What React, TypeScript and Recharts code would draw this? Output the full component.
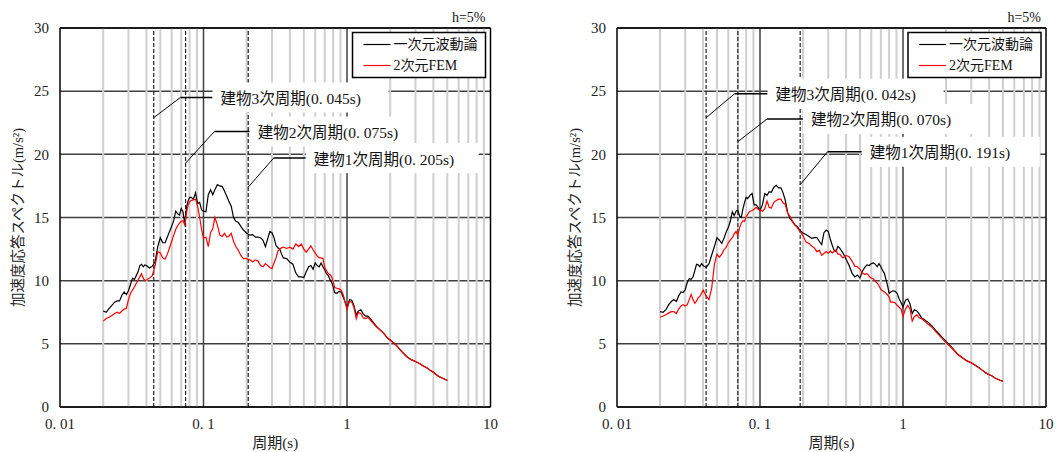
import React from 'react'
import { LineChart, Line, XAxis, YAxis, CartesianGrid, ReferenceLine, ReferenceDot } from 'recharts'

const FONT = "'Liberation Serif', 'Noto Sans CJK JP', serif"

// 周期 (s) — shared by all four curves
const periods = [
  0.020, 0.021, 0.022, 0.023, 0.024, 0.025, 0.026, 0.027, 0.028, 0.029, 0.030,
  0.031, 0.032, 0.033, 0.034, 0.035, 0.036, 0.037, 0.038, 0.039, 0.040,
  0.042, 0.044, 0.046, 0.048, 0.050, 0.052, 0.054, 0.056, 0.058, 0.060, 0.062,
  0.064, 0.066, 0.068, 0.070, 0.072, 0.074, 0.076, 0.078, 0.080, 0.082,
  0.085, 0.088, 0.091, 0.094, 0.097,
  0.100, 0.104, 0.108, 0.112, 0.116, 0.120,
  0.125, 0.130, 0.135, 0.140, 0.145, 0.150,
  0.156, 0.162, 0.168, 0.175, 0.182, 0.190, 0.200,
  0.21, 0.22, 0.23, 0.24, 0.25, 0.26, 0.27, 0.28, 0.29, 0.30, 0.31, 0.32, 0.33, 0.34, 0.35, 0.36,
  0.38, 0.40, 0.42, 0.44, 0.46, 0.48, 0.50, 0.52, 0.54, 0.56, 0.58, 0.60, 0.62, 0.64, 0.66,
  0.68, 0.70, 0.72, 0.74, 0.76, 0.78, 0.80, 0.82,
  0.85, 0.88, 0.91, 0.94, 0.97,
  1.00, 1.04, 1.08, 1.12, 1.16, 1.20,
  1.25, 1.30, 1.35, 1.40, 1.45, 1.50,
  1.6, 1.7, 1.8, 1.9, 2.0,
  2.2, 2.4, 2.6, 2.8, 3.0, 3.2, 3.4, 3.6, 3.8, 4.0, 4.2, 4.4, 4.6, 4.8, 5.0,
]

// left panel
const leftWave = [
  7.6, 7.5, 7.8, 8.05, 8.3, 8.4, 8.4, 8.85, 9.1, 8.9, 9.2, 9.7, 10.2, 10.1, 10.4, 10.7, 11.2, 11.3, 11.1, 11.25, 11.2,
  11.0, 11.15, 11.5, 12.7, 13.4, 13.0, 13.0, 13.45, 13.9, 14.3, 14.75, 15.5, 15.3, 15.2, 15.7, 15.45, 14.5, 15.8, 16.3, 16.6, 16.6,
  16.45, 16.95, 16.1, 16.2, 15.6,
  15.5, 15.45, 16.8, 17.2, 16.8, 17.2,
  17.6, 17.5, 17.45, 17.1, 16.7, 16.3,
  15.9, 15.0, 14.7, 14.6, 14.3, 14.0, 13.75,
  13.6, 13.65, 13.45, 13.45, 13.4, 13.2, 12.7, 13.3, 13.9, 13.8, 13.4, 12.8, 12.6, 12.5, 12.1, 11.8,
  11.75, 11.45, 11.3, 10.6, 10.3, 10.3, 10.25, 10.7, 11.1, 11.2, 10.9, 11.4, 11.2, 11.1, 11.4, 11.1, 10.85, 10.55, 10.4, 10.1, 9.9, 9.55, 9.05,
  9.0, 9.15, 9.1, 8.7, 8.3,
  7.85, 8.5, 8.45, 8.0, 7.3, 7.6,
  7.7, 7.35, 7.2, 7.2, 7.0, 6.8,
  6.4, 6.1, 5.85, 5.5, 5.3,
  4.9, 4.4, 4.0, 3.75, 3.6, 3.45, 3.25, 3.1, 2.9, 2.75, 2.55, 2.4, 2.3, 2.2, 2.1,
]
const leftFem = [
  6.8, 7.0, 7.1, 7.25, 7.4, 7.5, 7.4, 7.6, 7.75, 7.8, 8.5, 9.0, 9.25, 9.5, 9.8, 10.05, 10.3, 10.55, 10.2, 10.0, 10.05,
  10.2, 10.4, 11.2, 12.3, 12.2, 11.8, 11.7, 12.1, 12.6, 13.1, 13.6, 14.05, 14.35, 14.55, 14.7, 14.75, 14.4, 15.3, 15.95, 16.25, 16.35,
  16.4, 16.45, 15.9, 15.0, 14.05,
  13.35, 13.45, 12.7, 13.8, 14.1, 15.0,
  14.4, 13.6, 13.5, 13.75, 13.45, 13.5,
  13.75, 13.1, 12.7, 12.4, 12.0, 11.75, 11.75,
  11.65, 11.5, 11.65, 11.55, 11.2, 11.1, 11.35, 11.2, 11.05, 10.95, 11.4, 11.8, 12.35, 12.5, 12.6, 12.65,
  12.55, 12.65, 12.5, 12.9, 12.7, 12.9, 12.5, 12.25, 12.5, 12.75, 12.45, 12.2, 11.95, 11.8, 11.8, 11.75, 11.05, 10.8, 10.55, 10.5, 10.3, 9.95, 9.45,
  9.4, 9.35, 9.25, 8.9, 8.3,
  7.75, 8.35, 8.3, 7.85, 7.0, 7.5,
  7.4, 7.05, 7.0, 7.1, 6.9, 6.7,
  6.35, 6.1, 5.85, 5.5, 5.3,
  4.9, 4.4, 4.0, 3.75, 3.6, 3.45, 3.25, 3.1, 2.9, 2.75, 2.55, 2.4, 2.3, 2.2, 2.1,
]

// right panel
const rightWave = [
  7.55, 7.5, 7.7, 8.1, 8.35, 8.5, 8.35, 8.8, 9.1, 9.05, 9.3, 9.85, 10.15, 10.1, 10.3, 10.8, 11.3, 11.25, 11.1, 11.35, 11.2,
  11.05, 11.35, 12.05, 12.7, 13.4, 13.2, 12.95, 13.35, 13.85, 14.2, 14.7, 15.45, 15.15, 15.5, 15.6, 15.1, 15.0, 15.7, 16.2, 16.6, 16.5,
  16.75, 16.9, 16.0, 16.0, 15.8,
  15.55, 16.0, 16.9, 16.75, 17.05, 17.0,
  17.4, 17.55, 17.35, 17.35, 16.95, 16.4,
  15.4, 14.9, 14.7, 14.4, 14.3, 14.0, 13.75,
  13.65, 13.5, 13.35, 13.4, 13.4, 13.1, 12.85, 13.8, 14.0, 13.9, 13.3, 12.8, 12.4, 12.3, 12.7, 12.6,
  12.2, 11.7, 11.2, 10.6, 10.3, 10.45, 10.2, 10.75, 11.05, 11.25, 11.2, 11.35, 11.4, 11.3, 11.1, 11.35, 11.1, 10.8, 10.6, 10.1, 9.6, 9.0, 9.1,
  9.2, 9.15, 9.0, 8.55, 8.25,
  7.9, 8.45, 8.55, 8.15, 7.4, 7.7,
  7.6, 7.35, 7.05, 6.95, 6.8, 6.7,
  6.4, 6.05, 5.75, 5.45, 5.2,
  4.7, 4.2, 3.9, 3.65, 3.5, 3.3, 3.1, 2.9, 2.7, 2.55, 2.45, 2.3, 2.2, 2.1, 2.05,
]
const rightFem = [
  7.1, 7.2, 7.3, 7.45, 7.55, 7.55, 7.4, 7.75, 8.0, 8.1, 8.0, 8.1, 8.5, 8.9, 8.5, 8.2, 8.4, 8.65, 8.75, 9.0, 9.25,
  8.8, 8.5, 9.45, 11.3, 12.1, 11.85, 12.1, 12.45, 12.65, 13.0, 13.2, 13.4, 13.7, 13.9, 13.6, 14.2, 14.55, 14.75, 14.7, 15.05, 15.25,
  15.5, 15.55, 15.65, 15.8, 15.65,
  15.6, 15.5, 15.7, 16.3, 15.8, 15.75,
  16.2, 16.35, 16.45, 16.45, 16.15, 16.05,
  15.35, 15.1, 14.75, 14.45, 14.2, 13.9, 13.55,
  13.05, 12.95, 12.75, 12.6, 12.3, 12.4, 12.0, 12.15, 12.3, 12.15, 12.35, 12.2, 12.3, 12.45, 12.1, 12.1,
  11.8, 12.0, 11.9, 11.55, 11.15, 11.1, 10.9, 10.6, 10.5, 10.55, 10.35, 10.2, 10.15, 9.95, 9.8, 9.6, 9.3, 9.2, 9.1, 9.0, 8.85, 8.7, 8.3,
  8.3, 8.25, 8.05, 7.9, 7.75,
  7.15, 7.75, 8.05, 7.75, 6.8, 7.15,
  7.3, 7.05, 7.0, 6.85, 6.7, 6.55,
  6.3, 5.95, 5.65, 5.35, 5.1,
  4.65, 4.2, 3.9, 3.65, 3.5, 3.3, 3.1, 2.9, 2.7, 2.55, 2.45, 2.3, 2.2, 2.1, 2.05,
]

const xTicks = [0.01, 0.1, 1, 10]
const yTicks = [0, 5, 10, 15, 20, 25, 30]
const minorPeriods = [
  0.02, 0.03, 0.04, 0.05, 0.06, 0.07, 0.08, 0.09,
  0.2, 0.3, 0.4, 0.5, 0.6, 0.7, 0.8, 0.9,
  2, 3, 4, 5, 6, 7, 8, 9,
]
const majorPeriods = [0.1, 1]

const seriesNames = ['一次元波動論', '2次元FEM']

// building modal periods and their callouts (3rd, 2nd, 1st)
const leftModes = [0.045, 0.075, 0.205]
const leftModeText = ['建物3次周期(0. 045s)', '建物2次周期(0. 075s)', '建物1次周期(0. 205s)']
const leftStartY = [22.9, 19.3, 17.4]
const leftKneeT = [0.069, 0.119, 0.308]
const leftKneeY = [24.5, 21.8, 19.7]
const leftEndT = [0.1156, 0.21, 0.516]

const rightModes = [0.042, 0.070, 0.191]
const rightModeText = ['建物3次周期(0. 042s)', '建物2次周期(0. 070s)', '建物1次周期(0. 191s)']
const rightStartY = [22.9, 21.0, 17.6]
const rightKneeT = [0.0665, 0.112, 0.2965]
const rightKneeY = [24.8, 22.8, 20.2]
const rightEndT = [0.113, 0.1996, 0.515]

const fmtPeriod = (v: number) => (v < 1 ? String(v).replace('.', '. ') : String(v))

const YTitle = (props: any) => {
  const vb = props.viewBox || { x: 0, y: 0, width: 0, height: 0 }
  const x = vb.x + 3
  const y = vb.y + vb.height / 2
  return (
    <text x={x} y={y} transform={`rotate(-90 ${x} ${y})`} textAnchor="middle" dominantBaseline="central"
      fontSize={14.5} fill="#222" fontFamily={FONT}>
      加速度応答スペクトル(m/s²)
    </text>
  )
}

const XTitle = (props: any) => {
  const vb = props.viewBox || { x: 0, y: 0, width: 0, height: 0 }
  return (
    <text x={vb.x + vb.width / 2} y={vb.y + 36} textAnchor="middle" dominantBaseline="central"
      fontSize={15} fill="#222" fontFamily={FONT}>
      周期(s)
    </text>
  )
}

const calloutShape = (text: string, width: number) => (p: any) => (
  <g>
    <rect x={p.cx} y={p.cy - 15} width={width} height={30} fill="#fff" />
    <text x={p.cx + 8} y={p.cy + 1} dominantBaseline="central" fontSize={15.5} fill="#111" fontFamily={FONT}>
      {text}
    </text>
  </g>
)

const legendShape = (p: any) => {
  const w = 133
  const x0 = p.cx - 5 - w
  const y0 = p.cy + 4.5
  return (
    <g fontFamily={FONT} fontSize={14} fill="#111">
      <text x={p.cx - 5} y={p.cy - 11} textAnchor="end" dominantBaseline="central" fontSize={14}>h=5%</text>
      <rect x={x0} y={y0} width={w} height={45} fill="#fff" stroke="#000" strokeWidth={1.5} />
      <line x1={x0 + 11} x2={x0 + 38} y1={y0 + 12} y2={y0 + 12} stroke="#000" strokeWidth={1.2} />
      <text x={x0 + 41} y={y0 + 12} dominantBaseline="central">{seriesNames[0]}</text>
      <line x1={x0 + 11} x2={x0 + 38} y1={y0 + 33} y2={y0 + 33} stroke="#ff0000" strokeWidth={1.2} />
      <text x={x0 + 41} y={y0 + 33} dominantBaseline="central">{seriesNames[1]}</text>
    </g>
  )
}

interface PanelProps {
  wave: number[]
  fem: number[]
  modes: number[]
  modeText: string[]
  startY: number[]
  kneeT: number[]
  kneeY: number[]
  endT: number[]
  boxWidths: number[]
  margin: { top: number; right: number; bottom: number; left: number }
}

function SpectrumPanel(props: PanelProps) {
  const { wave, fem, modes, modeText, startY, kneeT, kneeY, endT, boxWidths, margin } = props
  const data = periods.map((p, i) => ({ period: p, wave: wave[i], fem: fem[i] }))
  return (
    <LineChart width={528} height={452} data={data} margin={margin}>
      <CartesianGrid vertical={false} stroke="#404040" strokeWidth={1.5} />
      {minorPeriods.map((p) => (
        <ReferenceLine key={'m' + p} x={p} stroke="#cfcfcf" strokeWidth={2} />
      ))}
      {majorPeriods.map((p) => (
        <ReferenceLine key={'M' + p} x={p} stroke="#404040" strokeWidth={1.5} />
      ))}
      {modes.map((p) => (
        <ReferenceLine key={'d' + p} x={p} stroke="#222" strokeWidth={1.2} strokeDasharray="4 2" />
      ))}
      <XAxis
        dataKey="period"
        type="number"
        scale="log"
        domain={[0.01, 10]}
        ticks={xTicks}
        allowDataOverflow
        tickFormatter={fmtPeriod}
        tickLine={false}
        tickMargin={5}
        height={45}
        axisLine={{ stroke: '#000', strokeWidth: 1.5 }}
        tick={{ fontSize: 15, fill: '#222', fontFamily: FONT }}
        label={<XTitle />}
      />
      <YAxis
        type="number"
        domain={[0, 30]}
        ticks={yTicks}
        interval={0}
        tickLine={false}
        tickMargin={5}
        width={45}
        axisLine={{ stroke: '#000', strokeWidth: 1.5 }}
        tick={{ fontSize: 15, fill: '#222', fontFamily: FONT }}
        label={<YTitle />}
      />
      <ReferenceLine y={30} stroke="#000" strokeWidth={1.5} />
      <ReferenceLine x={10} stroke="#000" strokeWidth={1.5} />
      <Line type="linear" dataKey="wave" name={seriesNames[0]} stroke="#000" strokeWidth={1.2} dot={false} isAnimationActive={false} />
      <Line type="linear" dataKey="fem" name={seriesNames[1]} stroke="#ff0000" strokeWidth={1.2} dot={false} isAnimationActive={false} />
      {modes.map((p, i) => (
        <ReferenceLine key={'s' + i} segment={[{ x: p, y: startY[i] }, { x: kneeT[i], y: kneeY[i] }]} stroke="#000" strokeWidth={1} ifOverflow="visible" />
      ))}
      {modes.map((p, i) => (
        <ReferenceLine key={'h' + i} segment={[{ x: kneeT[i], y: kneeY[i] }, { x: endT[i], y: kneeY[i] }]} stroke="#000" strokeWidth={1.5} ifOverflow="visible" />
      ))}
      {modes.map((p, i) => (
        <ReferenceDot key={'b' + i} x={endT[i]} y={kneeY[i]} ifOverflow="visible" shape={calloutShape(modeText[i], boxWidths[i])} />
      ))}
      <ReferenceDot x={10} y={30} ifOverflow="visible" shape={legendShape} />
    </LineChart>
  )
}

export default function App() {
  return (
    <div style={{ position: 'absolute', left: 0, top: 0, width: 1056, height: 452, background: '#fff', display: 'flex' }}>
      <SpectrumPanel
        wave={leftWave}
        fem={leftFem}
        modes={leftModes}
        modeText={leftModeText}
        startY={leftStartY}
        kneeT={leftKneeT}
        kneeY={leftKneeY}
        endT={leftEndT}
        boxWidths={[176, 163, 173]}
        margin={{ top: 28, right: 37.5, bottom: 0, left: 15 }}
      />
      <SpectrumPanel
        wave={rightWave}
        fem={rightFem}
        modes={rightModes}
        modeText={rightModeText}
        startY={rightStartY}
        kneeT={rightKneeT}
        kneeY={rightKneeY}
        endT={rightEndT}
        boxWidths={[176, 184, 178]}
        margin={{ top: 28, right: 10, bottom: 0, left: 44 }}
      />
    </div>
  )
}
